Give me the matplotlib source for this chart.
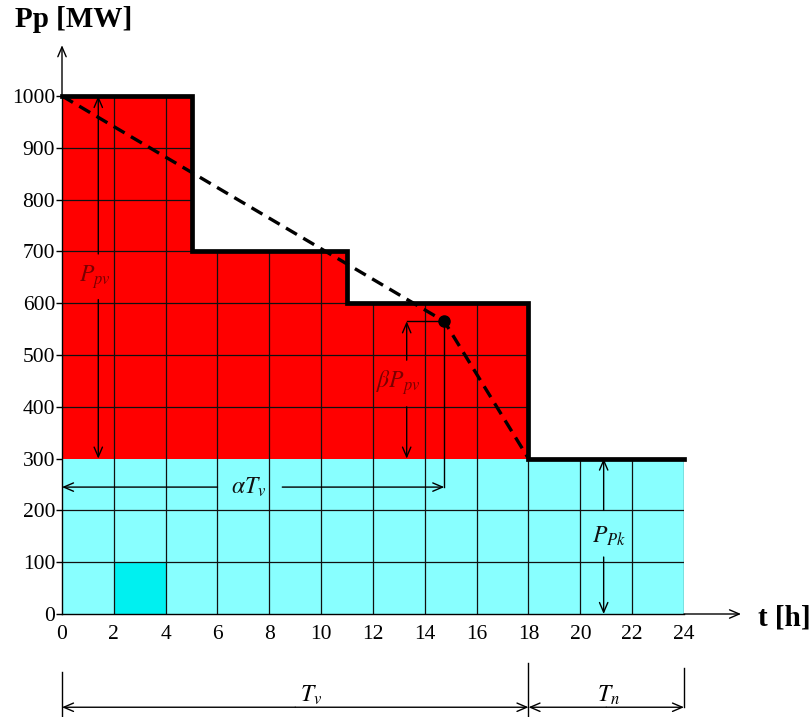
import numpy as np
import matplotlib
matplotlib.use("Agg")
import matplotlib.pyplot as plt

# daily load diagram: step edges [h] and load on each step [MW]
edges = np.array([0, 5, 11, 18, 24])
load = np.array([1000, 700, 600, 300])
base_load = 300

# dashed approximation line through the characteristic point
t_line = [0, 14.75, 18]
p_line = [1000, 565, 300]
alpha_t = 14.75
beta_p = 565

x_ticks = list(range(0, 25, 2))
y_ticks = list(range(0, 1001, 100))

plt.rcParams['font.family'] = ['Liberation Serif', 'DejaVu Serif']
plt.rcParams['mathtext.fontset'] = 'stix'

fig = plt.figure(figsize=(8.12, 7.17), dpi=100)
W, H = 812, 717
ax = fig.add_axes([62 / W, (H - 614) / H, (684 - 62) / W, (614 - 96) / H])
ax.set_xlim(0, 24)
ax.set_ylim(0, 1000)

# fills
peak = edges < 18
ax.fill_between(np.append(edges[:-1][peak[:-1]], 18), base_load,
                np.append(load[peak[:-1]], load[peak[:-1]][-1]),
                step='post', color='#ff0000', lw=0, zorder=1)
ax.fill_between([0, 24], 0, base_load, color='#88ffff', lw=0, zorder=1)
ax.fill_between([2, 4], 0, 100, color='#00f0f0', lw=0, zorder=1.5)

# grid only inside the filled area
for gx in x_ticks[1:]:
    idx = min(np.searchsorted(edges, gx, side='right') - 1, len(load) - 1)
    ax.vlines(gx, 0, load[idx], color='#111111', lw=0.9, zorder=2)
for gy in [100, 200, 400, 500, 600, 700, 800, 900]:
    xmax = edges[1:][load >= gy].max()
    ax.hlines(gy, 0, xmax, color='#111111', lw=0.9, zorder=2)

# load curve outline
ax.step(np.append(edges[:-1], 24), np.append(load, load[-1]), where='post',
        color='black', lw=3.4, zorder=4, clip_on=False, solid_joinstyle='miter')

# dashed line and point
ax.plot(t_line, p_line, color='black', lw=2.4, ls=(0, (3.8, 2.2)), zorder=5)
ax.plot([alpha_t], [beta_p], 'o', color='black', ms=8, zorder=6)

arr = dict(arrowstyle='->,head_length=0.7,head_width=0.3', lw=1, color='black',
           shrinkA=0, shrinkB=0)

def arrow(x0, y0, x1, y1):
    ax.annotate('', xy=(x1, y1), xytext=(x0, y0), arrowprops=arr,
                annotation_clip=False, zorder=7)

def line(xs, ys):
    ax.plot(xs, ys, color='black', lw=1, zorder=7, clip_on=False)

# P_pv
arrow(1.4, 695, 1.4, 1000)
arrow(1.4, 607, 1.4, 300)
ax.text(1.27, 650, r'$P_{pv}$', fontsize=17, color='#7a0000', ha='center', va='center', zorder=8)

# beta P_pv
line([13.3, alpha_t], [beta_p, beta_p])
arrow(13.3, 490, 13.3, beta_p)
arrow(13.3, 400, 13.3, 300)
ax.text(12.97, 446, r'$\beta P_{pv}$', fontsize=17, color='#7a0000', ha='center', va='center', zorder=8)

# alpha T_v
line([alpha_t, alpha_t], [beta_p, 245])
arrow(6.0, 245, 0, 245)
arrow(8.5, 245, alpha_t, 245)
ax.text(7.2, 245, r'$\alpha T_v$', fontsize=17, color='#101010', ha='center', va='center', zorder=8)

# P_Pk
arrow(20.9, 200, 20.9, 300)
arrow(20.9, 110, 20.9, 0)
ax.text(21.1, 150, r'$P_{Pk}$', fontsize=17, color='#101010', ha='center', va='center', zorder=8)

# period dimensions below the axis
line([0, 0], [-112, -198])
line([18, 18], [-95, -198])
line([24, 24], [-104, -180])
arrow(9, -180, 0, -180)
arrow(9, -180, 18, -180)
arrow(21, -180, 18, -180)
arrow(21, -180, 24, -180)
ax.text(9.6, -180, r'$T_v$', fontsize=17, ha='center', va='bottom')
ax.text(21.07, -180, r'$T_n$', fontsize=17, ha='center', va='bottom')

# axes with arrows
for s in ['top', 'right']:
    ax.spines[s].set_visible(False)
for s in ['left', 'bottom']:
    ax.spines[s].set_linewidth(1)
    ax.spines[s].set_zorder(3)
arrow(24, 0, 26.2, 0)
arrow(0, 1000, 0, 1098)
ax.text(26.85, -8, 't [h]', fontsize=21, fontweight='bold', ha='left', va='center')
ax.text(-1.81, 1147, 'Pp [MW]', fontsize=21, fontweight='bold', ha='left', va='center')

ax.set_xticks(x_ticks)
ax.set_yticks(y_ticks)
ax.tick_params(axis='x', length=0, pad=8, labelsize=15.5)
ax.tick_params(axis='y', length=4, width=1, pad=1, labelsize=15.5, direction='out')

fig.savefig('out.png', dpi=100, facecolor='white')
